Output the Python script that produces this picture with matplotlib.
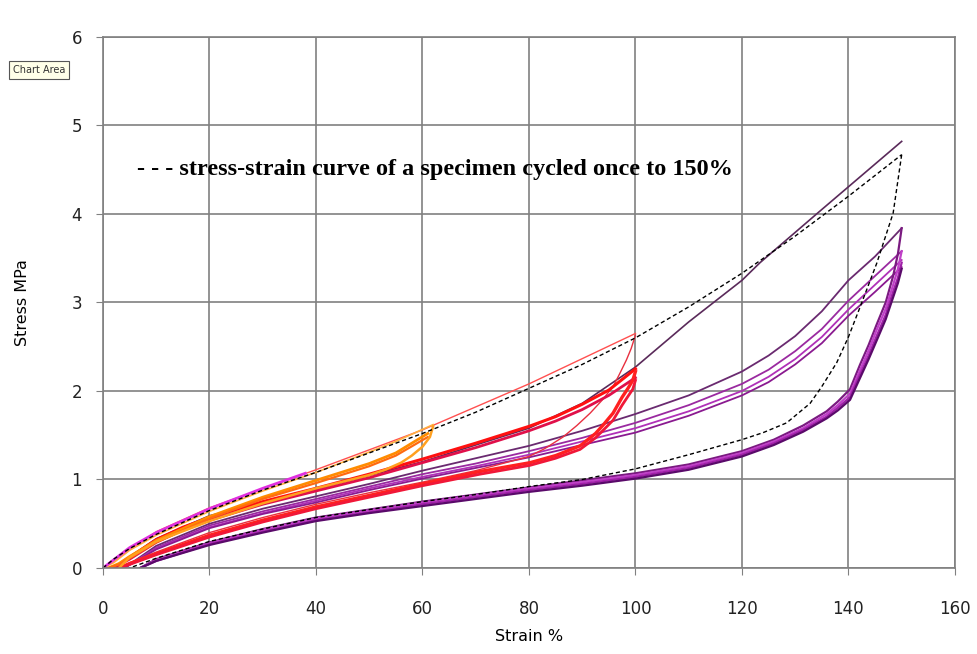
import matplotlib.pyplot as plt

# virgin curve of a specimen cycled once to 150 % (dashed)
virgin_x = [0, 2, 5, 10, 20, 30, 40, 50, 60, 70, 80, 90, 100, 110, 120, 130, 140, 150]
virgin_y = [0, 0.1, 0.22, 0.38, 0.65, 0.88, 1.08, 1.3, 1.52, 1.76, 2.03, 2.3, 2.6, 2.95, 3.33, 3.75, 4.2, 4.67]
virgin_un_x = [150, 148.4, 145.3, 142.2, 140, 137.8, 135, 132.8, 128.4, 124, 120, 110, 100, 90, 80, 70, 60, 50, 40, 30, 20, 10, 5]
virgin_un_y = [4.67, 4.01, 3.44, 2.95, 2.61, 2.32, 2.05, 1.86, 1.64, 1.53, 1.45, 1.28, 1.12, 1.0, 0.92, 0.83, 0.75, 0.66, 0.57, 0.44, 0.3, 0.11, 0]

# cycles to 60 %
or_load_x = [0, 2, 5, 10, 20, 30, 40, 50, 55, 62]
or_load_y = [0, 0.06, 0.2, 0.37, 0.64, 0.87, 1.08, 1.31, 1.43, 1.62]
or_rel_x = [1, 3, 5, 10, 20, 30, 40, 50, 55, 61]
or_rel_a = [0, 0.05, 0.13, 0.31, 0.58, 0.8, 0.99, 1.18, 1.3, 1.52]
or_rel_b = [0, 0.04, 0.11, 0.29, 0.56, 0.78, 0.96, 1.15, 1.27, 1.48]
or_un_x = [62, 61.4, 60, 58, 56, 53, 50, 40, 30, 20, 10, 5, 3]
or_un_y = [1.6, 1.48, 1.37, 1.27, 1.19, 1.11, 1.05, 0.9, 0.73, 0.53, 0.3, 0.12, 0]

# cycles to 100 %
red_load_x = [0, 10, 20, 40, 60, 80, 100]
red_load_y = [0, 0.41, 0.68, 1.11, 1.56, 2.08, 2.65]
red_un_x = [100, 99.2, 98.3, 97, 95.8, 93.8, 91.5, 89, 86.4, 83, 80, 70, 60, 50, 40, 30, 20, 10, 5, 3]
red_un_y = [2.63, 2.48, 2.35, 2.19, 2.05, 1.9, 1.75, 1.61, 1.48, 1.35, 1.26, 1.1, 0.97, 0.85, 0.72, 0.57, 0.4, 0.18, 0.06, 0]
red_rel_x = [2, 5, 10, 15, 20, 30, 40, 50, 60, 70, 80, 85, 90, 95, 100]
red_rel_a = [0, 0.12, 0.32, 0.46, 0.57, 0.75, 0.9, 1.06, 1.23, 1.41, 1.6, 1.71, 1.85, 2.01, 2.25]
red_rel_b = [0, 0.1, 0.29, 0.43, 0.54, 0.72, 0.87, 1.02, 1.19, 1.36, 1.55, 1.66, 1.79, 1.95, 2.15]
red_back_x = [100, 99.5, 98.6, 97.5, 95.8, 94, 92.5, 89.6, 85, 80.2, 70.8, 60, 50, 40, 30, 20, 10, 5, 3]
red_back_a = [2.22, 2.12, 2.03, 1.93, 1.75, 1.62, 1.52, 1.38, 1.27, 1.19, 1.09, 0.95, 0.82, 0.69, 0.54, 0.37, 0.16, 0.05, 0]
red_back_b = [2.12, 2.02, 1.94, 1.84, 1.67, 1.56, 1.47, 1.34, 1.24, 1.16, 1.06, 0.93, 0.8, 0.67, 0.52, 0.35, 0.15, 0.04, 0]

# cycles to 150 %
pu_load_x = [2, 10, 20, 40, 60, 80, 90, 100, 110, 120, 123.4, 134.6, 150]
pu_load_y = [0, 0.33, 0.59, 0.89, 1.2, 1.58, 1.86, 2.27, 2.78, 3.25, 3.45, 4.03, 4.82]
pu_rel_x = [4, 10, 20, 30, 40, 50, 60, 70, 80, 90, 100, 110, 120, 125, 130, 135, 140, 145, 150]
pu_rel_a = [0, 0.25, 0.5, 0.67, 0.81, 0.95, 1.1, 1.24, 1.38, 1.55, 1.74, 1.95, 2.22, 2.4, 2.62, 2.9, 3.25, 3.52, 3.84]
pu_rel_b = [0, 0.23, 0.48, 0.64, 0.78, 0.92, 1.06, 1.18, 1.32, 1.47, 1.64, 1.84, 2.08, 2.24, 2.45, 2.7, 3.02, 3.3, 3.58]
pu_rel_c = [0, 0.22, 0.46, 0.62, 0.76, 0.9, 1.03, 1.15, 1.28, 1.43, 1.58, 1.77, 2.0, 2.16, 2.36, 2.61, 2.92, 3.2, 3.48]
pu_rel_d = [0, 0.21, 0.45, 0.61, 0.74, 0.88, 1.01, 1.13, 1.25, 1.39, 1.53, 1.72, 1.95, 2.1, 2.3, 2.54, 2.85, 3.12, 3.4]
pu_un_x = [150, 149.3, 148.4, 147, 145.3, 143.8, 142.2, 140.3, 138, 135.9, 131.5, 126, 120, 110, 100, 90, 80, 70, 60, 50, 40, 30, 20, 10, 7]
pu_un_a = [3.84, 3.55, 3.3, 3.0, 2.75, 2.52, 2.3, 2.02, 1.88, 1.77, 1.61, 1.45, 1.32, 1.17, 1.07, 0.99, 0.91, 0.83, 0.75, 0.66, 0.57, 0.44, 0.29, 0.1, 0]
pu_un_b = [3.58, 3.38, 3.2, 2.93, 2.69, 2.46, 2.24, 1.97, 1.84, 1.74, 1.58, 1.43, 1.3, 1.15, 1.05, 0.97, 0.9, 0.82, 0.74, 0.65, 0.56, 0.43, 0.28, 0.09, 0]
pu_un_c = [3.45, 3.28, 3.12, 2.86, 2.62, 2.4, 2.19, 1.93, 1.81, 1.71, 1.56, 1.41, 1.28, 1.13, 1.03, 0.95, 0.88, 0.8, 0.72, 0.63, 0.54, 0.41, 0.27, 0.08, 0]
pu_un_d = [3.38, 3.22, 3.06, 2.81, 2.57, 2.36, 2.15, 1.9, 1.78, 1.69, 1.54, 1.39, 1.26, 1.11, 1.01, 0.93, 0.86, 0.78, 0.7, 0.62, 0.53, 0.4, 0.26, 0.08, 0]

# short magenta first loading near the virgin curve
mag_x = [0, 5, 10, 20, 30, 38]
mag_y = [0, 0.23, 0.4, 0.67, 0.9, 1.07]

fig = plt.figure(figsize=(9.77, 6.54), dpi=100)
ax = fig.add_axes([0.1054, 0.1315, 0.872, 0.812])

# 150 % cycles
ax.plot(pu_load_x, pu_load_y, color="#5a2a5a", lw=1.2)
for ys, c in [(pu_rel_a, "#6a2a70"), (pu_rel_b, "#9a2aa0"), (pu_rel_c, "#b030b8"), (pu_rel_d, "#8a1a90")]:
    ax.plot(pu_rel_x, ys, color=c, lw=1.3)
for ys, c in [(pu_un_a, "#7a1a80"), (pu_un_b, "#c040c8"), (pu_un_c, "#a020a8"), (pu_un_d, "#5a0a6a")]:
    ax.plot(pu_un_x, ys, color=c, lw=1.6)

# 100 % cycles
ax.plot(red_load_x, red_load_y, color="#ff5050", lw=1.0)
ax.plot(red_un_x, red_un_y, color="#e83040", lw=1.0)
ax.plot(red_rel_x, red_rel_a, color="#ff1010", lw=2.2)
ax.plot(red_rel_x, red_rel_b, color="#e0104a", lw=2.0)
ax.plot(red_back_x, red_back_a, color="#ff2020", lw=2.4)
ax.plot(red_back_x, red_back_b, color="#f01838", lw=2.0)

# 60 % cycles
ax.plot(or_load_x, or_load_y, color="#ffb040", lw=1.2)
ax.plot(or_rel_x, or_rel_a, color="#ff8c00", lw=2.0)
ax.plot(or_rel_x, or_rel_b, color="#ff6a10", lw=1.6)
ax.plot(or_un_x, or_un_y, color="#ffa020", lw=1.8)
ax.plot(mag_x, mag_y, color="#e030e0", lw=2.0)

# dashed reference specimen
ax.plot(virgin_x, virgin_y, color="black", lw=1.0, ls=(0, (3, 2)))
ax.plot(virgin_un_x, virgin_un_y, color="black", lw=1.0, ls=(0, (3, 2)))

ax.set_xlim(0, 160)
ax.set_ylim(0, 6)
ax.set_xticks(range(0, 161, 20))
ax.set_yticks(range(0, 7))
ax.grid(True, color="#808080", lw=1.2)
ax.set_axisbelow(True)
for s in ax.spines.values():
    s.set_color("#808080")
    s.set_linewidth(1.2)
ax.tick_params(length=5, color="#808080", labelsize=12, labelcolor="#222222")
ax.tick_params(axis="x", pad=18)
ax.tick_params(axis="y", pad=10)
ax.set_xlabel("Strain %", fontsize=11.5, labelpad=8)
ax.set_ylabel("Stress MPa", fontsize=11.5, labelpad=30)

ax.text(6.4, 4.5, "- - - stress-strain curve of a specimen cycled once to 150%",
        fontsize=17.5, fontweight="bold", family="Liberation Serif", va="center")

fig.text(0.013, 0.893, "Chart Area", fontsize=7, color="#333333", va="center",
         bbox=dict(boxstyle="square,pad=0.4", facecolor="#ffffe8", edgecolor="#555555", lw=0.8))

fig.savefig("out.png", dpi=100)
